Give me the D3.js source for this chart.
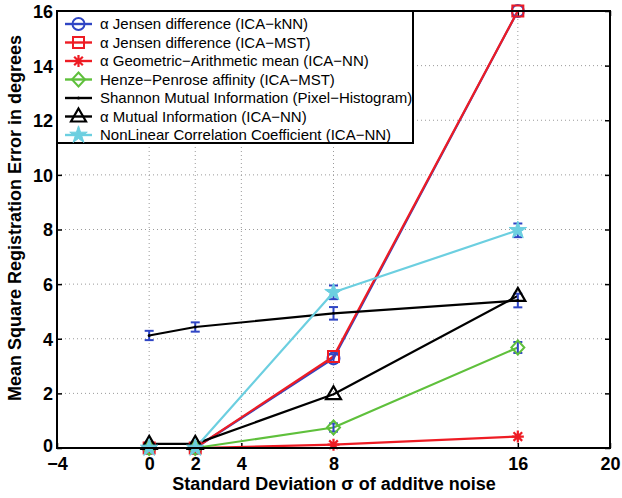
<!DOCTYPE html>
<html><head><meta charset="utf-8">
<script src="https://cdn.jsdelivr.net/npm/d3@7"></script>
<style>
html,body{margin:0;padding:0;background:#fff;}
svg{display:block;font-family:"Liberation Sans",Arial,sans-serif;}
</style></head>
<body>
<svg id="chart" width="622" height="498"></svg>
<script>
// ---- data ----
const noiseSigma = [0, 2, 8, 16];
const xTicks = [-4, 0, 2, 4, 8, 16, 20];
const yTicks = [0, 2, 4, 6, 8, 10, 12, 14, 16];
const xGrid = [0, 2, 4, 8, 16];
const yGrid = [2, 4, 6, 8, 10, 12, 14];

const jensenKnn   = [0, 0, 3.28, 16];
const jensenMst   = [0, 0, 3.35, 16];
const geoArith    = [0, 0, 0.12, 0.42];
const henzePen    = [0, 0, 0.75, 3.68];
const shannonMI   = [4.12, 4.43, 4.93, 5.4];
const alphaMI     = [0.15, 0.15, 1.97, 5.57];
const nonlinCorr  = [0, 0, 5.7, 7.97];

const jensenKnnErr  = [0, 0, 0.15, 0];
const henzePenErr   = [0, 0, 0.15, 0.2];
const shannonMIErr  = [0.17, 0.17, 0.23, 0.25];
const nonlinCorrErr = [0, 0, 0.25, 0.25];

const legendLabels = [
  "α Jensen difference (ICA−kNN)",
  "α Jensen difference (ICA−MST)",
  "α Geometric−Arithmetic mean (ICA−NN)",
  "Henze−Penrose affinity (ICA−MST)",
  "Shannon Mutual Information (Pixel−Histogram)",
  "α Mutual Information (ICA−NN)",
  "NonLinear Correlation Coefficient (ICA−NN)"
];

const xLabel = "Standard Deviation σ of additve noise";
const yLabel = "Mean Square Registration Error in degrees";

// ---- styles ----
const BLUE = "#2f45c4", RED = "#ee1c24", GREEN = "#5fc03c", CYAN = "#6ccfe0", BLACK = "#000";
const series = [
  {vals: jensenKnn, err: jensenKnnErr, color: BLUE, marker: "circle"},
  {vals: jensenMst, err: null, color: RED, marker: "square"},
  {vals: geoArith, err: null, color: RED, marker: "asterisk"},
  {vals: henzePen, err: henzePenErr, color: GREEN, marker: "diamond"},
  {vals: shannonMI, err: shannonMIErr, color: BLACK, marker: "dot"},
  {vals: alphaMI, err: null, color: BLACK, marker: "triangle"},
  {vals: nonlinCorr, err: nonlinCorrErr, color: CYAN, marker: "star"}
];

const svg = d3.select("#chart");
const x = d3.scaleLinear().domain([-4, 20]).range([57, 610]);
const y = d3.scaleLinear().domain([0, 16]).range([448, 11]);

// grid
const grid = svg.append("g").attr("stroke", "#9a9a9a").attr("stroke-width", 1).attr("stroke-dasharray", "1,3");
grid.selectAll(".gx").data(xGrid).join("line")
  .attr("x1", d => x(d)).attr("x2", d => x(d)).attr("y1", y(0)).attr("y2", y(16));
grid.selectAll(".gy").data(yGrid).join("line")
  .attr("y1", d => y(d)).attr("y2", d => y(d)).attr("x1", x(-4)).attr("x2", x(20));

// axes (ticks inward)
const fontTick = "bold 18px 'Liberation Sans', Arial, sans-serif";
const axB = svg.append("g").attr("transform", `translate(0,${y(0)})`)
  .call(d3.axisBottom(x).tickValues(xTicks).tickSizeInner(-5).tickSizeOuter(0).tickPadding(10));
const axT = svg.append("g").attr("transform", `translate(0,${y(16)})`)
  .call(d3.axisTop(x).tickValues(xTicks).tickSizeInner(-5).tickSizeOuter(0).tickFormat(""));
const axL = svg.append("g").attr("transform", `translate(${x(-4)},0)`)
  .call(d3.axisLeft(y).tickValues(yTicks).tickSizeInner(-5).tickSizeOuter(0).tickPadding(4));
const axR = svg.append("g").attr("transform", `translate(${x(20)},0)`)
  .call(d3.axisRight(y).tickValues(yTicks).tickSizeInner(-5).tickSizeOuter(0).tickFormat(""));
[axB, axT, axL, axR].forEach(a => {
  a.select(".domain").remove();
  a.selectAll(".tick line").attr("stroke", "#000").attr("stroke-width", 1.5);
  a.selectAll("text").style("font", fontTick).attr("fill", "#000");
});
axB.selectAll("text").attr("dy", null).attr("y", 22);
axL.selectAll("text").attr("dy", "0.36em").attr("x", -4);
axL.selectAll(".tick").filter(d => d === 0).select("text").attr("dy", "0.2em");

// series lines
const line = d3.line().x((d, i) => x(noiseSigma[i])).y(d => y(d));
series.forEach(s => {
  svg.append("path").datum(s.vals).attr("d", line)
    .attr("fill", "none").attr("stroke", s.color).attr("stroke-width", 2.2).attr("stroke-linejoin", "round");
});

// markers
function drawMarker(g, type, color, cx, cy) {
  if (type === "circle") {
    g.append("circle").attr("cx", cx).attr("cy", cy).attr("r", 6)
      .attr("fill", "none").attr("stroke", color).attr("stroke-width", 2);
  } else if (type === "square") {
    g.append("rect").attr("x", cx - 5.5).attr("y", cy - 5.5).attr("width", 11).attr("height", 11)
      .attr("fill", "none").attr("stroke", color).attr("stroke-width", 2);
  } else if (type === "diamond") {
    g.append("path").attr("d", `M${cx},${cy-7}L${cx+6.5},${cy}L${cx},${cy+7}L${cx-6.5},${cy}Z`)
      .attr("fill", "none").attr("stroke", color).attr("stroke-width", 2);
  } else if (type === "triangle") {
    g.append("path").attr("d", `M${cx},${cy-8}L${cx+7.5},${cy+5}L${cx-7.5},${cy+5}Z`)
      .attr("fill", "none").attr("stroke", color).attr("stroke-width", 2.2);
  } else if (type === "asterisk") {
    const r = 6, q = r * 0.72;
    g.append("path").attr("d", `M${cx-r},${cy}L${cx+r},${cy}M${cx},${cy-r}L${cx},${cy+r}M${cx-q},${cy-q}L${cx+q},${cy+q}M${cx-q},${cy+q}L${cx+q},${cy-q}`)
      .attr("stroke", color).attr("stroke-width", 2.2);
  } else if (type === "star") {
    g.append("path").attr("transform", `translate(${cx},${cy})`)
      .attr("d", d3.symbol(d3.symbolStar, 95)()).attr("fill", color).attr("stroke", color).attr("stroke-width", 1);
  } else if (type === "dot") {
    g.append("circle").attr("cx", cx).attr("cy", cy).attr("r", 1.5).attr("fill", color);
  }
}

// error bars (blue)
const eb = svg.append("g").attr("stroke", BLUE).attr("stroke-width", 2);
series.forEach(s => {
  if (!s.err) return;
  s.vals.forEach((v, i) => {
    const e = s.err[i];
    if (!e) return;
    const cx = x(noiseSigma[i]);
    eb.append("line").attr("x1", cx).attr("x2", cx).attr("y1", y(v - e)).attr("y2", y(v + e));
    eb.append("line").attr("x1", cx - 4.5).attr("x2", cx + 4.5).attr("y1", y(v - e)).attr("y2", y(v - e));
    eb.append("line").attr("x1", cx - 4.5).attr("x2", cx + 4.5).attr("y1", y(v + e)).attr("y2", y(v + e));
  });
});

const mk = svg.append("g");
series.forEach(s => {
  s.vals.forEach((v, i) => drawMarker(mk, s.marker, s.color, x(noiseSigma[i]), y(v)));
});

// frame
svg.append("rect").attr("x", x(-4)).attr("y", y(16)).attr("width", x(20) - x(-4)).attr("height", y(0) - y(16))
  .attr("fill", "none").attr("stroke", "#000").attr("stroke-width", 2);

// legend
const lg = svg.append("g");
lg.append("rect").attr("x", x(-4)).attr("y", y(16)).attr("width", 356).attr("height", 132)
  .attr("fill", "#fff").attr("stroke", "#000").attr("stroke-width", 2);
series.forEach((s, i) => {
  const ly = 24 + i * 18.5;
  lg.append("line").attr("x1", 65).attr("x2", 92).attr("y1", ly).attr("y2", ly)
    .attr("stroke", s.color).attr("stroke-width", 2.4);
  drawMarker(lg, s.marker, s.color, 78.5, ly);
  lg.append("text").attr("x", 100).attr("y", ly).attr("dy", "0.36em")
    .style("font", "15px 'Liberation Sans', Arial, sans-serif").attr("fill", "#000")
    .text(legendLabels[i]);
});

// axis labels
svg.append("text").attr("x", 334).attr("y", 490).attr("text-anchor", "middle")
  .style("font", "bold 18px 'Liberation Sans', Arial, sans-serif").text(xLabel);
svg.append("text").attr("transform", "translate(21,218) rotate(-90)").attr("text-anchor", "middle")
  .style("font", "bold 18px 'Liberation Sans', Arial, sans-serif").text(yLabel);
</script>
</body></html>
